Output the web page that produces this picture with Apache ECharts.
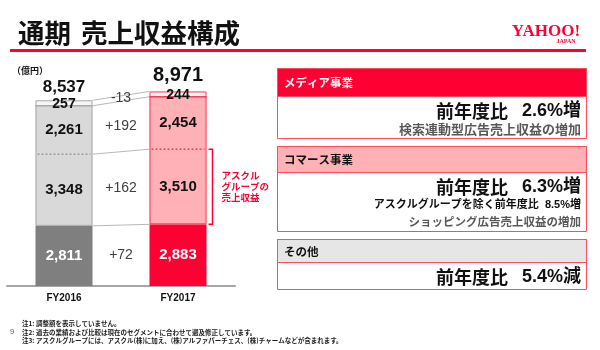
<!DOCTYPE html>
<html lang="ja">

<head>
  <meta charset="UTF-8">
  <title>通期 売上収益構成</title>
  <script src="https://cdn.jsdelivr.net/npm/echarts@6/dist/echarts.min.js"></script>
  <style>
    html, body { margin: 0; padding: 0; background: #fff; }
    #chart { width: 600px; height: 350px; }
  </style>
</head>

<body>
  <div id="chart"></div>
</body>

</html>
<script>
  // 売上収益（億円）: FY2016, FY2017
  const years = ['FY2016', 'FY2017'];
  const media = [2811, 2883];
  const askul = [3348, 3510];
  const commerce = [2261, 2454];
  const other = [257, 244];
  const totals = [8537, 8971];
  // 前年差（資料の表記どおり）: media, askul, commerce, other
  const changes = [72, 162, 192, -13];

  const segNames = ['メディア事業', 'コマース事業', 'その他'];
  const yoy = ['2.6%増', '6.3%増', '5.4%減'];
  const askulNote = 'アスクルグループを除く前年度比  8.5%増';
  const reasons = ['検索連動型広告売上収益の増加', 'ショッピング広告売上収益の増加', ''];
  const notes = [
    '注1: 調整額を表示していません。',
    '注2: 過去の業績および比較は現在のセグメントに合わせて遡及修正しています。',
    '注3: アスクルグループには、アスクル(株)に加え、(株)アルファパーチェス、(株)チャームなどが含まれます。'
  ];

  const xPos = [0, 2]; // 真ん中の 1 に増減ラベル
  const FONT = '"Liberation Sans", "Noto Sans CJK JP", sans-serif';
  const JP = '"Noto Sans CJK JP", sans-serif';
  const RED = '#ff0033';

  const barStyles = [
    { fill: ['#7f7f7f', '#d9d9d9', '#d9d9d9', '#f7f7f7'], line: '#a9a9a9', dash: '#9a9a9a', totalSize: 17, totalGap: 13 },
    { fill: [RED, '#ffb1b6', '#ffb1b6', '#eef5f5'], line: '#ff3b55', dash: '#ff3b55', totalSize: 20, totalGap: 16 }
  ];

  function stackOf(i) { return [media[i], askul[i], commerce[i], other[i]]; }
  function topsOf(i) { let c = 0; return stackOf(i).map(v => c += v); }
  function fmt(v) { return v.toLocaleString('en-US'); }

  function txt(text, x, y, font, fill, align, extra) {
    return {
      type: 'text', silent: true,
      style: Object.assign({
        text: text, x: x, y: y, font: font, fill: fill,
        align: align || 'left', verticalAlign: 'middle',
        textAlign: align || 'left', textVerticalAlign: 'middle'
      }, extra || {})
    };
  }

  function renderBar(params, api) {
    const i = params.dataIndex;
    const vals = stackOf(i), tops = topsOf(i);
    const s = barStyles[i];
    const w = api.size([1, 0])[0];
    const cx = api.coord([xPos[i], 0])[0];
    const y = v => api.coord([xPos[i], v])[1];
    const kids = [];
    let base = 0;
    vals.forEach((v, k) => {
      const y0 = y(base), y1 = y(base + v);
      kids.push({ type: 'rect', shape: { x: cx - w / 2, y: y1, width: w, height: y0 - y1 }, style: { fill: s.fill[k] } });
      base += v;
    });
    const yM = y(tops[0]), yTop = y(tops[3]);
    kids.push({ type: 'rect', shape: { x: cx - w / 2 + 0.5, y: yTop + 0.5, width: w - 1, height: yM - yTop - 1 }, style: { fill: 'none', stroke: s.line, lineWidth: 1 } });
    kids.push({ type: 'line', shape: { x1: cx - w / 2 + 2, y1: y(tops[1]), x2: cx + w / 2 - 2, y2: y(tops[1]) }, style: { stroke: s.dash, lineWidth: 1.5, lineDash: [2, 2] } });
    kids.push({ type: 'line', shape: { x1: cx - w / 2, y1: y(tops[2]), x2: cx + w / 2, y2: y(tops[2]) }, style: { stroke: s.line, lineWidth: 1.5 } });
    base = 0;
    vals.forEach((v, k) => {
      const yc = (y(base) + y(base + v)) / 2 + (k === 3 ? 1 : 0);
      kids.push(txt(fmt(v), cx, yc, 'bold ' + (k === 3 ? 14 : 15) + 'px ' + FONT, k === 0 ? '#fff' : '#111', 'center'));
      base += v;
    });
    kids.push(txt(fmt(totals[i]), cx, yTop - s.totalGap, 'bold ' + s.totalSize + 'px ' + FONT, '#111', 'center'));
    return { type: 'group', children: kids };
  }

  function renderChange(params, api) {
    const k = params.dataIndex;
    const t0 = topsOf(0), t1 = topsOf(1);
    const w = api.size([1, 0])[0];
    const p0 = api.coord([xPos[0], t0[k]]);
    const p1 = api.coord([xPos[1], t1[k]]);
    const c0 = api.coord([xPos[0], t0[k] - stackOf(0)[k] / 2])[1];
    const c1 = api.coord([xPos[1], t1[k] - stackOf(1)[k] / 2])[1];
    const mx = api.coord([1, 0])[0];
    const label = (changes[k] > 0 ? '+' : '') + changes[k];
    return {
      type: 'group', children: [
        { type: 'line', shape: { x1: p0[0] + w / 2, y1: p0[1], x2: p1[0] - w / 2, y2: p1[1] }, style: { stroke: '#b8b8b8', lineWidth: 1 } },
        txt(label, mx, (c0 + c1) / 2, '14px ' + FONT, '#404040', 'center')
      ]
    };
  }

  function renderBracket(params, api) {
    const t1 = topsOf(1);
    const w = api.size([1, 0])[0];
    const x = api.coord([xPos[1], 0])[0] + w / 2 + 6;
    const y0 = api.coord([xPos[1], t1[0]])[1];
    const y1 = api.coord([xPos[1], t1[1]])[1];
    return {
      type: 'group', children: [
        { type: 'polyline', shape: { points: [[x - 4, y1], [x, y1], [x, y0], [x - 4, y0]] }, style: { stroke: RED, lineWidth: 1.5, fill: 'none' } },
        txt('アスクル\nグループの\n売上収益', x + 9, (y0 + y1) / 2, 'bold 9.5px ' + JP, RED, 'left', { lineHeight: 11 })
      ]
    };
  }

  // 右側のパネル
  const panelTop = [68, 146, 239];
  const panelH = [70, 85, 50];
  const headH = [28, 26, 23];
  const headFill = [RED, '#ffb1b6', '#e6e6e6'];
  const headColor = ['#fff', '#111', '#111'];
  const panelGraphics = [];
  segNames.forEach((name, p) => {
    const t = panelTop[p];
    panelGraphics.push({ type: 'rect', shape: { x: 277.5, y: t + 0.5, width: 309, height: panelH[p] }, style: { fill: '#fff', stroke: '#ff4d5e', lineWidth: 1 } });
    panelGraphics.push({ type: 'rect', shape: { x: 277.5, y: t + 0.5, width: 309, height: headH[p] }, style: { fill: headFill[p], stroke: '#ff4d5e', lineWidth: 1 } });
    panelGraphics.push(txt(name, 284, t + headH[p] / 2 + 1, 'bold 11.5px ' + JP, headColor[p]));
    panelGraphics.push(txt('前年度比', 508, t + headH[p] + 15, 'bold 18px ' + JP, '#111', 'right'));
    panelGraphics.push(txt(yoy[p], 581, t + headH[p] + 15, 'bold 18px ' + FONT, '#111', 'right'));
  });
  panelGraphics.push(txt(reasons[0], 581, 129, 'bold 13px ' + JP, '#595959', 'right'));
  panelGraphics.push(txt(askulNote, 581, 205, 'bold 11px ' + FONT, '#111', 'right'));
  panelGraphics.push(txt(reasons[1], 581, 222, 'bold 11.5px ' + JP, '#595959', 'right'));

  const chart = echarts.init(document.getElementById('chart'));
  chart.setOption({
    animation: false,
    grid: { left: 7, right: 365, top: 72, bottom: 64 },
    xAxis: {
      type: 'value', min: -1, max: 3, interval: 1,
      splitLine: { show: false },
      axisTick: { show: false },
      axisLine: { lineStyle: { color: '#a6a6a6', width: 2 } },
      axisLabel: {
        margin: 7, fontSize: 10, fontWeight: 'bold', color: '#111', fontFamily: FONT,
        formatter: v => { const i = xPos.indexOf(v); return i >= 0 ? years[i] : ''; }
      }
    },
    yAxis: { type: 'value', min: 0, max: 10000, show: false },
    graphic: [
      txt('通期', 18, 33, 'bold 26.5px ' + JP, '#111'),
      txt('売上収益構成', 81, 33, 'bold 26.5px ' + JP, '#111'),
      { type: 'rect', shape: { x: 10, y: 49, width: 576, height: 3 }, style: { fill: RED } },
      txt('YAHOO!', 546, 32, 'bold 17px "Liberation Serif", serif', RED, 'center'),
      txt('JAPAN', 566, 41.5, 'bold 6px "Liberation Serif", serif', RED, 'center'),
      txt('（億円）', 12, 71, 'bold 9px ' + JP, '#111'),
      txt('9', 10, 332, '7.5px ' + FONT, '#555'),
      txt(notes[0], 22, 324, 'bold 6.5px ' + JP, '#222'),
      txt(notes[1], 22, 332.5, 'bold 6.5px ' + JP, '#222'),
      txt(notes[2], 22, 341, 'bold 6.5px ' + JP, '#222')
    ].concat(panelGraphics),
    series: [
      { type: 'custom', name: 'bars', renderItem: renderBar, data: years.map((_, i) => [xPos[i], totals[i]]), z: 2 },
      { type: 'custom', name: 'changes', renderItem: renderChange, data: changes.map((c, k) => [1, c]), z: 1 },
      { type: 'custom', name: 'bracket', renderItem: renderBracket, data: [[2, 0]], z: 3 }
    ]
  });
</script>
